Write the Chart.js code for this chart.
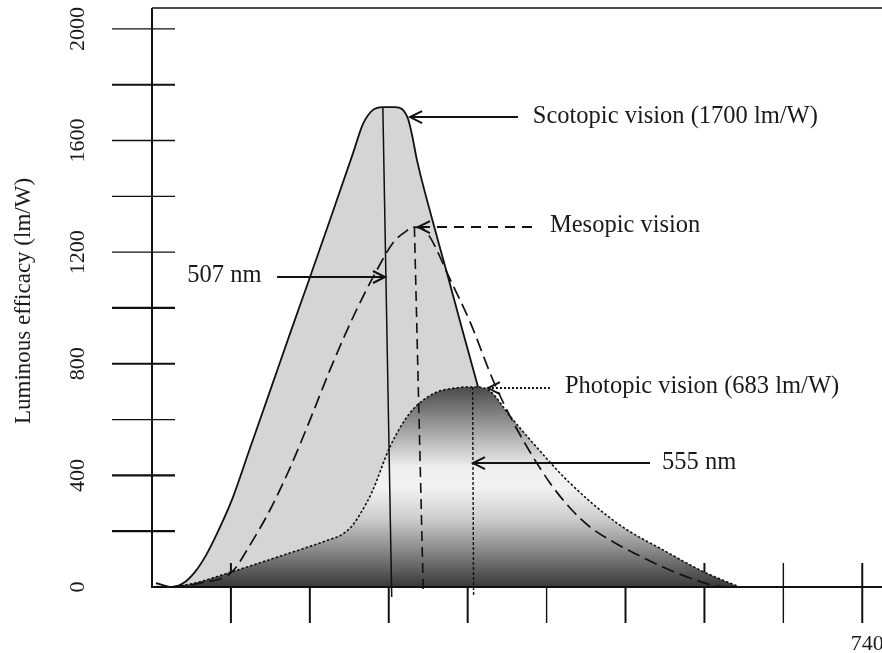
<!DOCTYPE html>
<html>
<head>
<meta charset="utf-8">
<script src="https://cdn.jsdelivr.net/npm/chart.js@4.4.0/dist/chart.umd.min.js"></script>
<style>
    html, body { margin: 0; padding: 0; background: #fff; }
    #wrap { width: 882px; height: 653px; position: relative; }
</style>
</head>
<body>
<div id="wrap"><canvas id="grafica"></canvas></div>
<script>
// Curvas: longitud de onda (nm) y eficacia luminosa (lm/W)
const scotopicNm = [382, 390.1, 396.7, 401.8, 406.9, 411.9, 420.5, 429.7, 439.8, 449.9, 460.1, 470.2, 481.9, 486.9, 492, 497.1, 503.2, 506.7, 509.8, 511.8, 514.3, 522.4, 529.5, 537.6, 544.7, 551.3, 558.9, 571.6, 586.8, 607.1, 632.4, 657.7];
const scotopicLm = [14, 0, 18, 54, 108, 176, 312, 498, 702, 907, 1111, 1315, 1555, 1659, 1710, 1720, 1720, 1713, 1677, 1620, 1530, 1308, 1125, 914, 731, 570, 437, 276, 151, 61, 14, 0];

const mesopicNm = [390.1, 404.3, 420.5, 429.7, 439.8, 449.9, 460.1, 470.2, 482.9, 494, 502.1, 508.2, 512.8, 517.4, 520.9, 531, 541.2, 552.8, 561.4, 571.6, 581.7, 591.9, 602, 614.7, 627.3, 640, 652.7, 665.4, 670.4];
const mesopicLm = [0, 14, 54, 151, 276, 426, 599, 778, 982, 1136, 1233, 1272, 1290, 1283, 1254, 1104, 950, 742, 613, 484, 373, 283, 215, 158, 111, 68, 32, 4, 0];

const photopicNm = [390.1, 401.8, 418.5, 443.9, 469.2, 475.8, 481.4, 486.4, 491.5, 500.6, 510.8, 522.4, 533.6, 542.7, 551.3, 561.4, 573.1, 590.3, 615.7, 641, 658.8, 667.9, 676.5, 678];
const photopicLm = [0, 14, 50, 108, 168, 186, 219, 272, 340, 502, 624, 692, 713, 717, 702, 613, 516, 383, 229, 125, 57, 29, 4, 0];

// Líneas verticales de los máximos (bajan un poco por debajo del eje)
const scotopicPeakNm = [497, 501.5];
const scotopicPeakLm = [1720, -36];
const mesopicPeakNm = [513, 517.5];
const mesopicPeakLm = [1290, -18];
const photopicPeakNm = [542.5, 543];
const photopicPeakLm = [717, -36];

// Ejes
const yTickValues = [200, 400, 600, 800, 1000, 1200, 1400, 1600, 1800, 2000];
const yTickWidths = [2.2, 2.2, 1.3, 2.2, 2.2, 1.3, 1.3, 1.5, 2.2, 1.3];
const yLabelValues = [0, 400, 800, 1200, 1600, 2000];
const xTickValues = [420, 460, 500, 540, 580, 620, 660, 700, 740];
const xTickWidths = [2, 2, 2, 2, 1.4, 2, 2, 1.4, 2];
const xLabelValues = [740];

const SERIF = '"Liberation Serif", "Times New Roman", serif';

function puntos(xs, ys) {
    return xs.map((x, i) => ({ x: x, y: ys[i] }));
}

function flecha(ctx, x0, x1, y, dash) {
    ctx.setLineDash(dash);
    ctx.beginPath();
    ctx.moveTo(x0, y);
    ctx.lineTo(x1, y);
    ctx.stroke();
    ctx.setLineDash([]);
    const d = x1 < x0 ? 1 : -1;
    ctx.beginPath();
    ctx.moveTo(x1 + d * 12, y - 6);
    ctx.lineTo(x1, y);
    ctx.lineTo(x1 + d * 12, y + 6);
    ctx.stroke();
}

// Anotaciones: [texto, nm inicio flecha, nm punta, lm, nm texto, alineación, trazo]
const notas = [
    ["Scotopic vision (1700 lm/W)", 565.5, 510.8, 1684, 573, "left", []],
    ["Mesopic vision", 572.6, 514.8, 1290, 581.7, "left", [10, 7]],
    ["507 nm", 443.4, 498.1, 1111, 435.5, "right", []],
    ["Photopic vision (683 lm/W)", 581.7, 550.3, 713, 589.3, "left", [2, 2]],
    ["555 nm", 632.4, 542.7, 444, 638.5, "left", []]
];

const ejes = {
    id: "ejes",
    afterDatasetDraw(chart, args) {
        if (chart.data.datasets[args.index].label !== "Scotopic") return;
        const { ctx, chartArea } = chart;
        const { x, y } = chart.scales;
        ctx.save();
        ctx.strokeStyle = "#111";
        ctx.setLineDash([]);
        yTickValues.forEach((v, i) => {
            const py = y.getPixelForValue(v);
            ctx.lineWidth = yTickWidths[i];
            ctx.beginPath();
            ctx.moveTo(chartArea.left - 40, py);
            ctx.lineTo(chartArea.left + 23, py);
            ctx.stroke();
        });
        xTickValues.forEach((v, i) => {
            const px = x.getPixelForValue(v);
            ctx.lineWidth = xTickWidths[i];
            ctx.beginPath();
            ctx.moveTo(px, chartArea.bottom - 24);
            ctx.lineTo(px, chartArea.bottom + 36);
            ctx.stroke();
        });
        ctx.restore();
    },
    afterDatasetsDraw(chart) {
        const { ctx, chartArea } = chart;
        const { x, y } = chart.scales;
        ctx.save();
        ctx.strokeStyle = "#111";
        ctx.setLineDash([]);

        // marco: eje y, eje x y línea superior
        ctx.lineWidth = 2;
        ctx.beginPath();
        ctx.moveTo(chartArea.left, chartArea.top);
        ctx.lineTo(chartArea.left, chartArea.bottom);
        ctx.lineTo(chartArea.right, chartArea.bottom);
        ctx.stroke();
        ctx.lineWidth = 1.5;
        ctx.beginPath();
        ctx.moveTo(chartArea.left, chartArea.top);
        ctx.lineTo(chartArea.right, chartArea.top);
        ctx.stroke();

        ctx.fillStyle = "#1a1a1a";
        ctx.textAlign = "center";
        ctx.textBaseline = "middle";

        // etiquetas del eje y (giradas)
        ctx.font = "22px " + SERIF;
        yLabelValues.forEach(v => {
            ctx.save();
            ctx.translate(chartArea.left - 74, y.getPixelForValue(v));
            ctx.rotate(-Math.PI / 2);
            ctx.fillText(String(v), 0, 0);
            ctx.restore();
        });

        // título del eje y
        ctx.font = "23px " + SERIF;
        ctx.save();
        ctx.translate(24, 301);
        ctx.rotate(-Math.PI / 2);
        ctx.fillText("Luminous efficacy (lm/W)", 0, 0);
        ctx.restore();

        // etiqueta del eje x
        ctx.font = "22px " + SERIF;
        xLabelValues.forEach(v => {
            ctx.fillText(String(v), x.getPixelForValue(v) + 5, chartArea.bottom + 57);
        });

        // flechas y textos
        ctx.lineWidth = 2;
        ctx.font = "24.5px " + SERIF;
        notas.forEach(n => {
            const py = y.getPixelForValue(n[3]);
            flecha(ctx, x.getPixelForValue(n[1]), x.getPixelForValue(n[2]), py, n[6]);
            ctx.textAlign = n[5];
            ctx.fillText(n[0], x.getPixelForValue(n[4]), py - 1);
        });
        ctx.restore();
    }
};

const ctx = document.getElementById("grafica").getContext("2d");

const chart = new Chart(ctx, {
    type: "line",
    data: {
        datasets: [
            {
                label: "Scotopic",
                data: puntos(scotopicNm, scotopicLm),
                borderColor: "#111",
                borderWidth: 1.8,
                backgroundColor: "#d5d5d5",
                fill: "origin",
                pointRadius: 0,
                cubicInterpolationMode: "monotone",
                order: 6
            },
            {
                label: "Photopic",
                data: puntos(photopicNm, photopicLm),
                borderColor: "#111",
                borderWidth: 1.6,
                borderDash: [2.5, 2],
                backgroundColor: (c) => {
                    const ch = c.chart;
                    if (!ch.chartArea) return "#888";
                    const top = ch.scales.y.getPixelForValue(Math.max(...photopicLm));
                    const g = ch.ctx.createLinearGradient(0, top, 0, ch.chartArea.bottom);
                    g.addColorStop(0, "#4a4a4a");
                    g.addColorStop(0.2, "#9c9c9c");
                    g.addColorStop(0.4, "#eeeeee");
                    g.addColorStop(0.5, "#f3f3f3");
                    g.addColorStop(0.66, "#cdcdcd");
                    g.addColorStop(0.85, "#7a7a7a");
                    g.addColorStop(1, "#383838");
                    return g;
                },
                fill: "origin",
                pointRadius: 0,
                cubicInterpolationMode: "monotone",
                order: 5
            },
            {
                label: "Mesopic",
                data: puntos(mesopicNm, mesopicLm),
                borderColor: "#111",
                borderWidth: 1.7,
                borderDash: [13, 6],
                fill: false,
                pointRadius: 0,
                cubicInterpolationMode: "monotone",
                order: 4
            },
            {
                label: "Scotopic peak",
                data: puntos(scotopicPeakNm, scotopicPeakLm),
                borderColor: "#111",
                borderWidth: 1.5,
                pointRadius: 0,
                fill: false,
                clip: false,
                order: 3
            },
            {
                label: "Mesopic peak",
                data: puntos(mesopicPeakNm, mesopicPeakLm),
                borderColor: "#111",
                borderWidth: 1.6,
                borderDash: [10, 6],
                pointRadius: 0,
                fill: false,
                clip: false,
                order: 2
            },
            {
                label: "Photopic peak",
                data: puntos(photopicPeakNm, photopicPeakLm),
                borderColor: "#111",
                borderWidth: 1.4,
                borderDash: [3, 2],
                pointRadius: 0,
                fill: false,
                clip: false,
                order: 1
            }
        ]
    },
    options: {
        responsive: true,
        maintainAspectRatio: false,
        animation: false,
        layout: { padding: { left: 152, top: 8, right: 0, bottom: 66 } },
        plugins: {
            legend: { display: false },
            tooltip: { enabled: false }
        },
        scales: {
            x: { type: "linear", min: 380, max: 750, display: false },
            y: { min: 0, max: 2075, display: false }
        }
    },
    plugins: [ejes]
});
</script>
</body>
</html>
